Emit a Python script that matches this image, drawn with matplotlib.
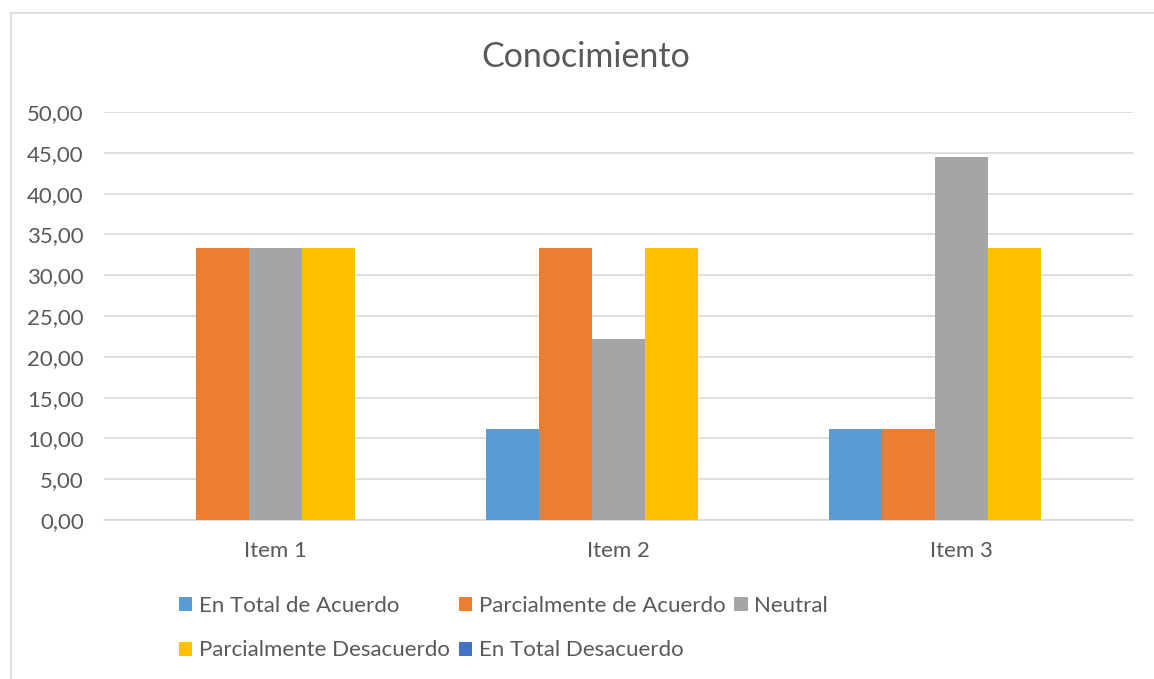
import numpy as np
import matplotlib
matplotlib.use("Agg")
import matplotlib.pyplot as plt
from matplotlib.lines import Line2D

plt.rcParams['font.family'] = ['Lato', 'DejaVu Sans']

items = ["Item 1", "Item 2", "Item 3"]
series = ["En Total de Acuerdo", "Parcialmente de Acuerdo", "Neutral",
          "Parcialmente Desacuerdo", "En Total Desacuerdo"]
en_total_acuerdo = [0.00, 11.11, 11.11]
parcial_acuerdo = [33.33, 33.33, 11.11]
neutral = [33.33, 22.22, 44.44]
parcial_desacuerdo = [33.33, 33.33, 33.33]
en_total_desacuerdo = [0.00, 0.00, 0.00]
colors = ["#5B9BD5", "#ED7D31", "#A5A5A5", "#FFC000", "#4472C4"]

values = [en_total_acuerdo, parcial_acuerdo, neutral, parcial_desacuerdo, en_total_desacuerdo]
text_color = "#595959"
grid_color = "#D9D9D9"

fig = plt.figure(figsize=(11.54, 6.79), dpi=100)
ax = fig.add_axes([104 / 1154, 1 - 520 / 679, (1133 - 104) / 1154, (520 - 112) / 679])

x = np.arange(len(items))
width = 0.1545
bars = []
for i, (name, vals, c) in enumerate(zip(series, values, colors)):
    b = ax.bar(x + (i - 2) * width, vals, width, color=c, label=name, zorder=3)
    bars.append(b)

ax.set_xlim(-0.5, 2.5)
ax.set_ylim(0, 50)
ax.set_yticks(np.arange(0, 51, 5))
ax.set_yticklabels([f"{v:.2f}".replace(".", ",") for v in np.arange(0, 51, 5)])
ax.set_xticks(x)
ax.set_xticklabels(items)
ax.tick_params(axis="both", length=0, labelsize=16, colors=text_color)
ax.tick_params(axis="y", pad=14.5)
ax.tick_params(axis="x", pad=15)
ax.grid(axis="y", color=grid_color, linewidth=1.2, zorder=0)
for s in ["top", "right", "left"]:
    ax.spines[s].set_visible(False)
ax.spines["bottom"].set_color(grid_color)
ax.spines["bottom"].set_linewidth(1.2)

fig.text(586 / 1154, 1 - 57 / 679, "Conocimiento", ha="center", va="center",
         fontsize=24.5, color=text_color)

# legend filled column by column, so order the handles to read row by row
order = [0, 3, 1, 4, 2]
handles = [bars[i] for i in order]
labels = [series[i] for i in order]
fig.legend(handles, labels, ncol=3, loc="upper left",
           bbox_to_anchor=(179 / 1154, 1 - 596 / 679), frameon=False,
           fontsize=16, labelcolor=text_color, handlelength=0.6, handleheight=0.6,
           handletextpad=0.3, columnspacing=0.4, labelspacing=1.1, borderpad=0,
           borderaxespad=0)

# chart area border
fig.add_artist(Line2D([10.5 / 1154, 10.5 / 1154], [0, 1 - 12.5 / 679],
                      transform=fig.transFigure, color=grid_color, linewidth=1.2))
fig.add_artist(Line2D([10.5 / 1154, 1], [1 - 12.5 / 679, 1 - 12.5 / 679],
                      transform=fig.transFigure, color=grid_color, linewidth=1.2))

fig.savefig("out.png", dpi=100, facecolor="white")
